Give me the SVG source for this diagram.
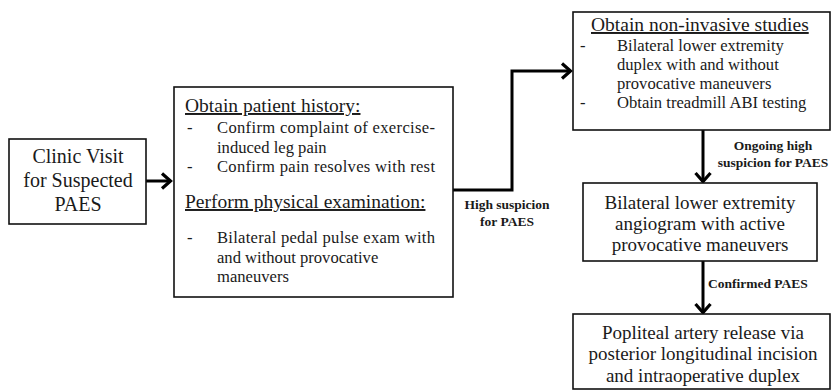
<svg xmlns="http://www.w3.org/2000/svg" width="832" height="390" viewBox="0 0 832 390">
<defs>
<style>
.box{fill:#fff;stroke:#111;stroke-width:1.6}
.t{font-family:"Liberation Serif","Times New Roman",serif;fill:#1a1a1a}
.c{text-anchor:middle}
.h{font-size:19.5px;text-decoration:underline}
.b{font-size:16.6px}
.m{font-size:19px}
.lbl{font-family:"Liberation Serif","Times New Roman",serif;font-size:13.5px;font-weight:bold;fill:#1a1a1a}
.con{fill:none;stroke:#000;stroke-width:3}
</style>
<marker id="arr" markerUnits="userSpaceOnUse" markerWidth="14" markerHeight="18" viewBox="0 0 14 18" refX="12" refY="9" orient="auto">
<path d="M3,1.5 L11.5,9 L3,16.5" fill="none" stroke="#000" stroke-width="3.2" stroke-linejoin="miter"/>
</marker>
</defs>
<rect width="832" height="390" fill="#fff"/>
<g id="connectors">
<path class="con" d="M146,181 H171" marker-end="url(#arr)"/>
<path class="con" d="M453,190 H512 V71 H571" marker-end="url(#arr)"/>
<path class="con" d="M703,130 V182" marker-end="url(#arr)"/>
<path class="con" d="M703,261 V313" marker-end="url(#arr)"/>
<text class="lbl c" x="507" y="209">High suspicion</text>
<text class="lbl c" x="507" y="226">for PAES</text>
<text class="lbl c" x="773" y="150">Ongoing high</text>
<text class="lbl c" x="773" y="167">suspicion for PAES</text>
<text class="lbl" x="708" y="288">Confirmed PAES</text>
</g>
<g id="clinic">
<rect class="box" x="9" y="139" width="137" height="85"/>
<text class="t c m" x="78" y="163" style="font-size:20px">Clinic Visit</text>
<text class="t c m" x="78" y="187" style="font-size:20px">for Suspected</text>
<text class="t c m" x="78" y="211" style="font-size:20px">PAES</text>
</g>
<g id="history">
<rect class="box" x="174" y="87" width="279" height="210"/>
<text class="t h" x="185" y="112">Obtain patient history:</text>
<text class="t b" x="187" y="133">-</text>
<text class="t b" x="217" y="133" textLength="218" lengthAdjust="spacing">Confirm complaint of exercise-</text>
<text class="t b" x="217" y="153">induced leg pain</text>
<text class="t b" x="187" y="172">-</text>
<text class="t b" x="217" y="172" textLength="218" lengthAdjust="spacing">Confirm pain resolves with rest</text>
<text class="t h" x="185" y="208">Perform physical examination:</text>
<text class="t b" x="187" y="243">-</text>
<text class="t b" x="217" y="243" textLength="218" lengthAdjust="spacing">Bilateral pedal pulse exam with</text>
<text class="t b" x="217" y="263">and without  provocative</text>
<text class="t b" x="217" y="282">maneuvers</text>
</g>
<g id="noninvasive">
<rect class="box" x="573" y="12" width="257" height="118"/>
<text class="t h" x="591" y="31">Obtain non-invasive  studies</text>
<text class="t b" x="580" y="51">-</text>
<text class="t b" x="617" y="51">Bilateral  lower  extremity</text>
<text class="t b" x="617" y="70">duplex  with  and without</text>
<text class="t b" x="617" y="89">provocative  maneuvers</text>
<text class="t b" x="580" y="108">-</text>
<text class="t b" x="617" y="108">Obtain  treadmill  ABI testing</text>
</g>
<g id="angiogram">
<rect class="box" x="583" y="183" width="234" height="78"/>
<text class="t c m" x="700" y="209">Bilateral lower extremity</text>
<text class="t c m" x="700" y="230">angiogram  with  active</text>
<text class="t c m" x="700" y="251">provocative  maneuvers</text>
</g>
<g id="release">
<rect class="box" x="573" y="314" width="257" height="75"/>
<text class="t c m" x="703" y="339">Popliteal artery release via</text>
<text class="t c m" x="703" y="360">posterior longitudinal  incision</text>
<text class="t c m" x="703" y="382">and  intraoperative  duplex</text>
</g>
</svg>
